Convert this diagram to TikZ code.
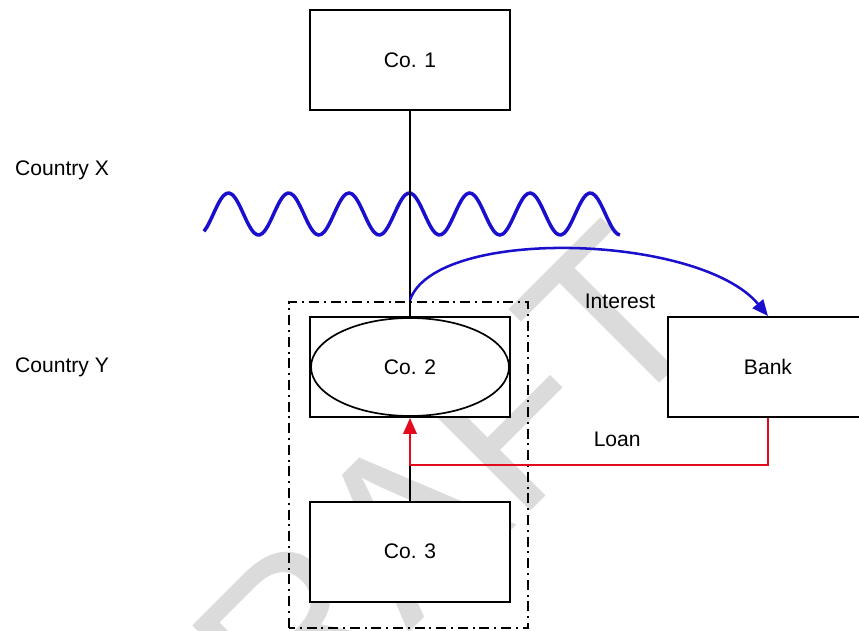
\documentclass[tikz,border=0pt]{standalone}
\usepackage{fontspec}
\setmainfont{Liberation Sans}
\usetikzlibrary{arrows.meta,shapes.geometric}

\definecolor{waveblue}{RGB}{25,15,205}
\definecolor{loanred}{RGB}{228,10,30}

\begin{document}
\begin{tikzpicture}[every node/.style={font=\fontsize{15}{18}\selectfont}, >={Triangle[length=4mm, width=3.4mm]},
	company/.style={draw, line width=1.4pt, fill=white, minimum width=5cm, minimum height=2.5cm}]
	\useasboundingbox (0,0) rectangle (21.475,15.75);
	\node[rotate=45, text=gray!28, font=\fontsize{164}{164}\selectfont] (draft) at (9.725,2.225) {DRAFT};
	\draw[waveblue, line width=2.5pt] plot[domain=5.1:15.5, samples=150, smooth] (\x, {10.4+0.525*cos(360*(\x-5.71)/1.508)});
	\draw[line width=1.4pt, dash pattern=on 0.25cm off 0.12cm on 0.05cm off 0.12cm] (7.225,0.06) rectangle (13.2,8.2);
	\node[company] (co1) at (10.25,14.25) {Co. 1};
	\node[company] (co2box) at (10.25,6.575) {};
	\node[ellipse, draw, line width=1.2pt, fill=white, inner sep=0pt, minimum width=4.95cm, minimum height=2.45cm] (co2) at (co2box) {Co. 2};
	\node[company] (co3) at (10.25,1.96) {Co. 3};
	\node[company] (bank) at (19.2,6.575) {Bank};
	\node (cx) at (1.55,11.5) {Country X};
	\node (cy) at (1.55,6.575) {Country Y};
	\coordinate (split) at (10.25,8.25);
	\coordinate (join) at (10.25,4.125);
	\draw[line width=1.4pt] (co1) -- (co2box);
	\draw[line width=1.4pt] (co3) -- (join);
	\draw[->, waveblue, line width=1.8pt] (split) .. controls (10.9,10.1) and (17.5,9.9) .. (bank.north);
	\draw[->, loanred, line width=1.3pt] (bank.south) |- (join) -- (co2box.south);
	\node (interest) at (15.5,8.225) {Interest};
	\node (loan) at (15.43,4.775) {Loan};
\end{tikzpicture}
\end{document}
